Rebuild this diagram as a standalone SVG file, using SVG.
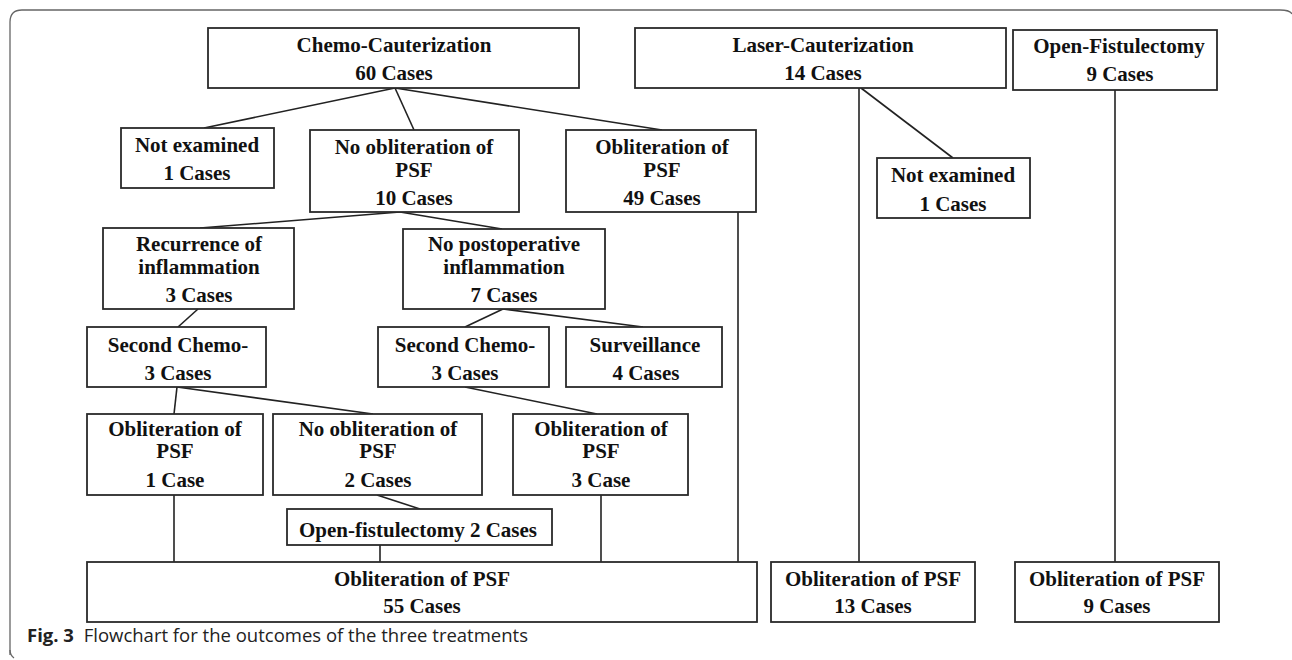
<svg xmlns="http://www.w3.org/2000/svg" width="1292" height="660" viewBox="0 0 1292 660">
<style>
.box{fill:#fff;stroke:#2a2a2a;stroke-width:1.8}
.t{font-family:"Liberation Serif","Times New Roman",serif;font-weight:bold;font-size:21px;fill:#111;text-anchor:middle}
.c line{stroke:#222;stroke-width:1.6}
.cap{font-family:"Open Sans","Noto Sans",sans-serif;font-size:18.5px;fill:#222}
</style>
<rect width="1292" height="660" fill="#fff"/>
<path d="M10,655 L10,22 Q10,10 22,10 L1280,10 Q1290,10 1292,14" fill="none" stroke="#666" stroke-width="1.3"/>
<path d="M10,650 Q10,655 14,658" fill="none" stroke="#666" stroke-width="1.3"/>

<g class="c" id="connectors">
<line x1="395" y1="88" x2="204" y2="128"/>
<line x1="395" y1="88" x2="414" y2="130"/>
<line x1="395" y1="88" x2="662" y2="130"/>
<line x1="738" y1="212" x2="738" y2="562"/>
<line x1="861" y1="88" x2="953" y2="158"/>
<line x1="859" y1="88" x2="859" y2="562"/>
<line x1="1115" y1="90" x2="1115" y2="562"/>
<line x1="400" y1="212" x2="200" y2="228"/>
<line x1="400" y1="212" x2="502" y2="229"/>
<line x1="198" y1="309" x2="178" y2="327"/>
<line x1="503" y1="309" x2="465" y2="327"/>
<line x1="503" y1="309" x2="643" y2="327"/>
<line x1="177" y1="387" x2="174" y2="414"/>
<line x1="177" y1="387" x2="373" y2="414"/>
<line x1="465" y1="387" x2="597" y2="414"/>
<line x1="377" y1="495" x2="420" y2="509"/>
<line x1="174" y1="495" x2="174" y2="562"/>
<line x1="380" y1="545" x2="380" y2="562"/>
<line x1="601" y1="495" x2="601" y2="562"/>
</g>

<g id="chemo"><rect class="box" x="208" y="28" width="371" height="60"/>
<text class="t" x="394" y="52">Chemo-Cauterization</text><text class="t" x="394" y="80">60 Cases</text></g>
<g id="laser"><rect class="box" x="635" y="28" width="371" height="60"/>
<text class="t" x="823" y="52">Laser-Cauterization</text><text class="t" x="823" y="80">14 Cases</text></g>
<g id="open"><rect class="box" x="1013" y="30" width="204" height="60"/>
<text class="t" x="1119" y="53">Open-Fistulectomy</text><text class="t" x="1120" y="81">9 Cases</text></g>

<g id="notexam1"><rect class="box" x="121" y="128" width="153" height="60"/>
<text class="t" x="197" y="152">Not examined</text><text class="t" x="197" y="180">1 Cases</text></g>
<g id="noobl10"><rect class="box" x="310" y="130" width="209" height="82"/>
<text class="t" x="414" y="154">No obliteration of</text><text class="t" x="414" y="177">PSF</text><text class="t" x="414" y="205">10 Cases</text></g>
<g id="obl49"><rect class="box" x="566" y="130" width="190" height="82"/>
<text class="t" x="662" y="154">Obliteration of</text><text class="t" x="662" y="177">PSF</text><text class="t" x="662" y="205">49 Cases</text></g>
<g id="notexam2"><rect class="box" x="877" y="158" width="153" height="60"/>
<text class="t" x="953" y="182">Not examined</text><text class="t" x="953" y="211">1 Cases</text></g>

<g id="recurrence"><rect class="box" x="103" y="228" width="191" height="81"/>
<text class="t" x="199" y="251">Recurrence of</text><text class="t" x="199" y="274">inflammation</text><text class="t" x="199" y="302">3 Cases</text></g>
<g id="nopostop"><rect class="box" x="403" y="229" width="202" height="80"/>
<text class="t" x="504" y="251">No postoperative</text><text class="t" x="504" y="274">inflammation</text><text class="t" x="504" y="302">7 Cases</text></g>

<g id="second1"><rect class="box" x="87" y="327" width="179" height="60"/>
<text class="t" x="178" y="352">Second Chemo-</text><text class="t" x="178" y="380">3 Cases</text></g>
<g id="second2"><rect class="box" x="378" y="327" width="171" height="60"/>
<text class="t" x="465" y="352">Second Chemo-</text><text class="t" x="465" y="380">3 Cases</text></g>
<g id="surveillance"><rect class="box" x="566" y="327" width="156" height="60"/>
<text class="t" x="645" y="352">Surveillance</text><text class="t" x="646" y="380">4 Cases</text></g>

<g id="obl1"><rect class="box" x="87" y="414" width="176" height="81"/>
<text class="t" x="175" y="436">Obliteration of</text><text class="t" x="175" y="458">PSF</text><text class="t" x="175" y="487">1 Case</text></g>
<g id="noobl2"><rect class="box" x="273" y="414" width="209" height="81"/>
<text class="t" x="378" y="436">No obliteration of</text><text class="t" x="378" y="458">PSF</text><text class="t" x="378" y="487">2 Cases</text></g>
<g id="obl3"><rect class="box" x="513" y="414" width="175" height="81"/>
<text class="t" x="601" y="436">Obliteration of</text><text class="t" x="601" y="458">PSF</text><text class="t" x="601" y="487">3 Case</text></g>
<g id="openfist2"><rect class="box" x="287" y="509" width="265" height="36"/>
<text class="t" x="418" y="537">Open-fistulectomy 2 Cases</text></g>

<g id="obl55"><rect class="box" x="87" y="562" width="670" height="60"/>
<text class="t" x="422" y="586">Obliteration of PSF</text><text class="t" x="422" y="613">55 Cases</text></g>
<g id="obl13"><rect class="box" x="771" y="562" width="204" height="60"/>
<text class="t" x="873" y="586">Obliteration of PSF</text><text class="t" x="873" y="613">13 Cases</text></g>
<g id="obl9"><rect class="box" x="1015" y="562" width="204" height="60"/>
<text class="t" x="1117" y="586">Obliteration of PSF</text><text class="t" x="1117" y="613">9 Cases</text></g>

<text class="cap" x="27" y="642"><tspan font-weight="bold">Fig. 3</tspan><tspan dx="5"> Flowchart for the outcomes of the three treatments</tspan></text>
</svg>
